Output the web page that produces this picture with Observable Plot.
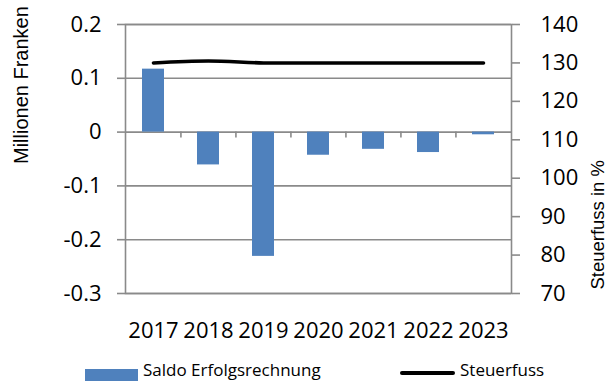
<!DOCTYPE html>
<html>
<head>
<meta charset="utf-8">
<script src="https://cdn.jsdelivr.net/npm/d3@7"></script>
<script src="https://cdn.jsdelivr.net/npm/@observablehq/plot@0.6"></script>
<style>
  html, body { margin: 0; padding: 0; background: #fff; overflow: hidden; }
  #chart { width: 610px; }
  .legend { position: relative; width: 610px; height: 31px; overflow: hidden; font-family: "Open Sans", sans-serif; font-size: 17px; color: #000; }
  .legend .swatch { position: absolute; left: 85px; top: 19px; width: 53px; height: 14px; background: #4f81bd; }
  .legend .lineSwatch { position: absolute; left: 400px; top: 21px; width: 55px; height: 4px; background: #000; border-radius: 2px; }
  .legend .lab { position: absolute; top: 7.5px; line-height: normal; white-space: nowrap; }
</style>
</head>
<body>
<div id="chart"></div>
<script>
// Gemeindefinanzen: Saldo der Erfolgsrechnung (Mio. Fr.) und Steuerfuss (%)
const years = ["2017", "2018", "2019", "2020", "2021", "2022", "2023"];
const saldo = [0.117, -0.061, -0.231, -0.043, -0.032, -0.038, -0.005];
const steuerfuss = [130, 130.5, 130, 130, 130, 130, 130];
const leftTicks = [-0.3, -0.2, -0.1, 0, 0.1, 0.2];
const rightTicks = [70, 80, 90, 100, 110, 120, 130, 140];

const W = 610, H = 350;
const mL = 125, mR = 99, mT = 24, mB = 57;
const gray = "#8a8a8a";
const font = "Open Sans";

// Steuerfuss (70–140) is drawn on the Franken axis (-0.3–0.2)
const leftMin = -0.3, leftMax = 0.2, rightMin = 70, rightMax = 140;
const toLeft = v => leftMin + (v - rightMin) * (leftMax - leftMin) / (rightMax - rightMin);
const fromLeft = d => Math.round(rightMin + (d - leftMin) * (rightMax - rightMin) / (leftMax - leftMin));

const rows = years.map((y, i) => ({year: y, saldo: saldo[i], steuer: toLeft(steuerfuss[i])}));
const step = (W - mL - mR) / years.length;

const chart = Plot.plot({
  width: W,
  height: H,
  marginLeft: mL,
  marginRight: mR,
  marginTop: mT,
  marginBottom: mB,
  style: {fontFamily: font, fontSize: "22px", background: "#fff", color: "#000"},
  x: {type: "band", domain: years, paddingInner: 0.6, paddingOuter: 0.3, axis: null},
  y: {domain: [leftMin, leftMax], axis: null},
  marks: [
    Plot.gridY(leftTicks, {stroke: gray, strokeOpacity: 1, strokeWidth: 1.6}),
    Plot.frame({stroke: gray, strokeWidth: 1.6}),
    Plot.ruleX(years.slice(1), {x: d => d, y1: 0, y2: 0, insetBottom: -6, dx: -step / 2, stroke: gray, strokeWidth: 1.6}),
    Plot.barY(rows, {x: "year", y1: 0, y2: "saldo", fill: "#4f81bd"}),
    Plot.line(rows, {x: "year", y: "steuer", curve: "catmull-rom", stroke: "#000", strokeWidth: 3.6, strokeLinecap: "round"}),
    Plot.axisY(leftTicks, {
      anchor: "left", tickSize: 8, tickPadding: 16, stroke: gray, strokeWidth: 1.6,
      tickFormat: d => d === 0 ? "0" : d.toFixed(1), fontSize: 22, fontFamily: font, label: null
    }),
    Plot.axisY(rightTicks.map(toLeft), {
      anchor: "right", tickSize: 8, tickPadding: 21, stroke: gray, strokeWidth: 1.6,
      tickFormat: d => String(fromLeft(d)), fontSize: 22, fontFamily: font, label: null
    }),
    Plot.axisX({anchor: "bottom", tickSize: 0, tickPadding: 29, fontSize: 22, fontFamily: font, label: null}),
    Plot.text(["Millionen Franken"], {
      frameAnchor: "left", rotate: -90, dx: -104, dy: 5, text: d => d,
      fontSize: 20, fontFamily: "Liberation Sans", fill: "#000"
    }),
    Plot.text(["Steuerfuss in %"], {
      frameAnchor: "right", rotate: -90, dx: 87, dy: 1, text: d => d,
      fontSize: 18.5, fontFamily: "Liberation Sans", fill: "#000"
    })
  ]
});
document.getElementById("chart").appendChild(chart);

// Legend below the chart
const legend = document.createElement("div");
legend.className = "legend";
legend.innerHTML =
  '<div class="swatch"></div><div class="lab" style="left:143px">Saldo Erfolgsrechnung</div>' +
  '<div class="lineSwatch"></div><div class="lab" style="left:460px">Steuerfuss</div>';
document.body.appendChild(legend);
</script>
</body>
</html>
